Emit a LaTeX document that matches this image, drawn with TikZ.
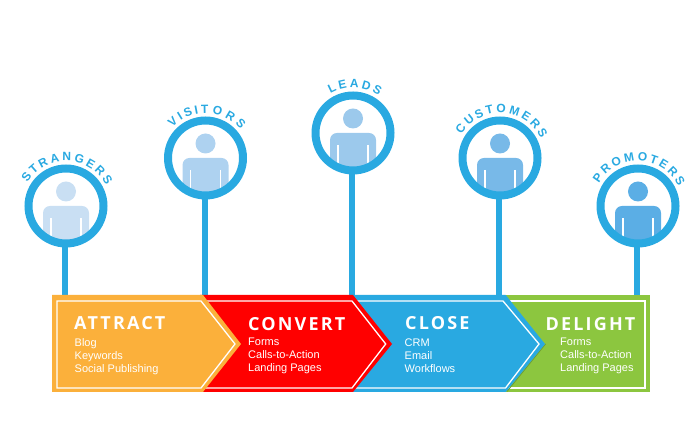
\documentclass[tikz,border=0pt]{standalone}
\usepackage{fontspec}
\usepackage{xcolor}
\setmainfont{Liberation Sans}
\newfontfamily\titlefont[LetterSpace=12]{Open Sans}
\definecolor{ringblue}{HTML}{29A9E1}
\definecolor{attractorange}{HTML}{FBB03B}
\definecolor{convertred}{HTML}{FF0000}
\definecolor{delightgreen}{HTML}{8CC63F}
\definecolor{delightedge}{HTML}{6F9E32}
\definecolor{strangertint}{HTML}{C9DFF3}
\definecolor{visitortint}{HTML}{AED2F0}
\definecolor{leadtint}{HTML}{9CC9EC}
\definecolor{customertint}{HTML}{78B9E8}
\definecolor{promotertint}{HTML}{5BAEE5}
\usetikzlibrary{decorations.text}
\tikzset{
  ring/.style={circle, draw=ringblue, line width=8pt, minimum size=75pt, inner sep=0pt, outer sep=0pt},
  stem/.style={draw=ringblue, line width=6.3pt},
  armline/.style={draw=white, line width=1.4pt},
  inset/.style={draw=white, line width=1.3pt},
  arclabel/.style={decorate, decoration={text effects along path, text={#1}, text effects/.cd, text along path, fit text to path, every character/.style={text=ringblue, font=\fontsize{12}{12}\selectfont\bfseries}}},
  stagetitle/.style={anchor=west, inner sep=0pt, text=white, font=\fontsize{18}{18}\titlefont\bfseries},
  stagelist/.style={anchor=north west, inner sep=0pt, align=left, text=white, font=\fontsize{11}{13}\selectfont}
}

\begin{document}
\begin{tikzpicture}[x=1pt, y=1pt]
\useasboundingbox (0,0) rectangle (700,438);
\coordinate (bartop) at (0,143);
% people on their stems
\foreach \who/\px/\py/\tint in {strangers/66/232/strangertint, visitors/205.5/280/visitortint, leads/353/305/leadtint, customers/500/280/customertint, promoters/638/232/promotertint}{
  \begin{scope}[shift={(\px,\py)}]
    \clip (0,0) circle (34);
    \fill[\tint] (0,14.5) circle (10);
    \fill[\tint, rounded corners=7] (-23,-45) rectangle (23,0);
    \draw[armline] (-15,-12) -- (-15,-40);
    \draw[armline] (15,-12) -- (15,-40);
  \end{scope}
  \node[ring] (\who) at (\px,\py) {};
  \draw[stem] ([xshift=-0.8pt]\who.south) -- ([xshift=-0.8pt]\who.south |- bartop);
}
% names over the rings
\path[arclabel=STRANGERS] (66,232) ++(149:45) arc (149:27:45);
\path[arclabel=VISITORS] (205.5,280) ++(137:45) arc (137:39:45);
\path[arclabel=LEADS] (353,305) ++(120:45) arc (120:55:45);
\path[arclabel=CUSTOMERS] (500,280) ++(149:45) arc (149:25:45);
\path[arclabel=PROMOTERS] (638,232) ++(150:45) arc (150:26:45);
% delight
\fill[delightgreen] (500,143) -- (650,143) -- (650,46) -- (500,46) -- cycle;
\draw[inset] (505,137) -- (645,137) -- (645,50) -- (505,50);
\draw[delightedge, line width=0.8pt] (545.6,94) -- (507,46.5);
% close
\fill[ringblue] (350,143) -- (505.7,143) -- (545,94) -- (505.7,46) -- (350,46) -- cycle;
\draw[inset] (350,137) -- (503,137) -- (539,94) -- (505.5,50) -- (350,50);
% convert
\fill[convertred] (200,143) -- (353,143) -- (392,94) -- (353,46) -- (200,46) -- cycle;
\draw[inset] (200,137) -- (352,137) -- (385.7,94) -- (352,50) -- (200,50);
% attract
\fill[attractorange] (52,143) -- (203,143) -- (241,94) -- (203,46) -- (52,46) -- cycle;
\draw[inset] (57,137) -- (201,137) -- (235,94) -- (201,50) -- (57,50) -- cycle;
% stage names and lists
\node[stagetitle] (attract) at (74,115) {ATTRACT};
\node[stagelist] (attractlist) at (74.5,99.5) {Blog\\Keywords\\Social Publishing};
\node[stagetitle] (convert) at (248,114) {CONVERT};
\node[stagelist] (convertlist) at (248,100.5) {Forms\\Calls-to-Action\\Landing Pages};
\node[stagetitle] (close) at (405,115) {CLOSE};
\node[stagelist] (closelist) at (404.5,99.5) {CRM\\Email\\Workflows};
\node[stagetitle] (delight) at (545.5,114) {DELIGHT};
\node[stagelist] (delightlist) at (560,100.5) {Forms\\Calls-to-Action\\Landing Pages};
\end{tikzpicture}
\end{document}
